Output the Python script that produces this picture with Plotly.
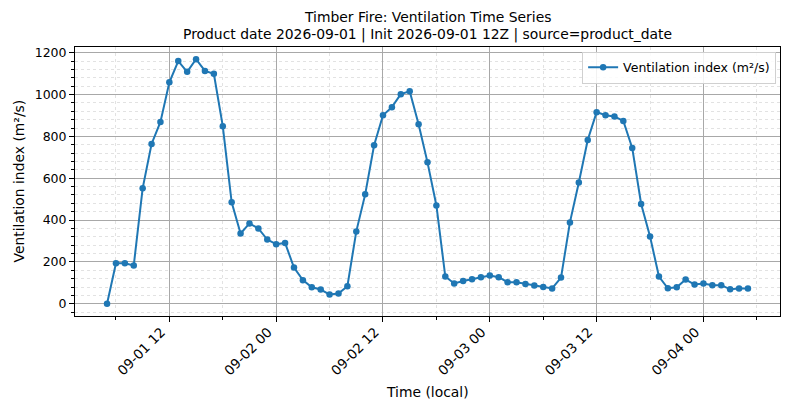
import pandas as pd
import plotly.graph_objects as go

# Hourly ventilation index values (m²/s), starting 2026-09-01 05:00 local
start_time = "2026-09-01 05:00"
vent_index = [0, 194, 194, 183, 552, 764, 869, 1059, 1160, 1109, 1169, 1113, 1099,
              849, 485, 336, 384, 360, 307, 285, 291, 173, 113, 79, 68,
              44, 49, 84, 346, 523, 758, 901, 940, 1002, 1016, 858, 676, 470,
              130, 97, 109, 117, 127, 135, 127, 103, 103, 95, 87, 80,
              73, 125, 389, 580, 783, 916, 901, 895, 874, 745, 477, 322,
              130, 74, 79, 116, 92, 97, 89, 89, 69, 73, 73]
times = pd.date_range(start_time, periods=len(vent_index), freq="h")

title_line1 = "Timber Fire: Ventilation Time Series"
title_line2 = "Product date 2026-09-01 | Init 2026-09-01 12Z | source=product_date"
series_name = "Ventilation index (m²/s)"
x_label = "Time (local)"
y_label = "Ventilation index (m²/s)"

FONT = "DejaVu Sans"
BLUE = "#1f77b4"

fig = go.Figure()
fig.add_trace(go.Scatter(
    x=times, y=vent_index, mode="lines+markers", name=series_name,
    line=dict(color=BLUE, width=2),
    marker=dict(color=BLUE, size=6.5),
))

span = times[-1] - times[0]
pad = span * 0.05
ymin, ymax = min(vent_index), max(vent_index)
ypad = (ymax - ymin) * 0.05

TF = dict(family=FONT, size=13.9, color="black")

# page body has an 8px margin, so the figure is sized/offset to compensate
fig.update_layout(
    width=782, height=401,
    margin=dict(l=67, r=10, t=39, b=93, autoexpand=False),
    paper_bgcolor="white", plot_bgcolor="white",
    font=dict(family=FONT, size=12.5, color="black"),
    showlegend=True,
    legend=dict(
        x=0.9945, y=0.983, xanchor="right", yanchor="top",
        bgcolor="rgba(255,255,255,0.85)", bordercolor="#d0d0d0", borderwidth=1,
        font=dict(family=FONT, size=12.5, color="black"),
        tracegroupgap=0, itemwidth=30,
    ),
    annotations=[
        dict(text=title_line1, xref="paper", yref="paper", x=0.5, y=1,
             yshift=30, xanchor="center", yanchor="middle", showarrow=False, font=TF),
        dict(text=title_line2, xref="paper", yref="paper", x=0.5, y=1,
             yshift=13, xanchor="center", yanchor="middle", showarrow=False, font=TF),
        dict(text=x_label, xref="paper", yref="paper", x=0.5, y=0,
             yshift=-76, xanchor="center", yanchor="middle", showarrow=False, font=TF),
        dict(text=y_label, xref="paper", yref="paper", x=0, y=0.5,
             xshift=-57, xanchor="center", yanchor="middle", showarrow=False,
             textangle=-90, font=TF),
    ],
)

fig.update_xaxes(
    type="date", automargin=False,
    range=[times[0] - pad, times[-1] + pad],
    tick0="2026-09-01 00:00", dtick=12 * 3600 * 1000,
    tickformat="%m-%d %H", tickangle=-45,
    ticklabelshift=-8, ticklabelstandoff=-3,
    ticks="outside", ticklen=5, tickwidth=1, tickcolor="black",
    showline=True, linecolor="black", linewidth=1, mirror=True,
    showgrid=True, gridcolor="#a8a8a8", gridwidth=0.8,
    zeroline=False,
    minor=dict(dtick=6 * 3600 * 1000, tick0="2026-09-01 00:00",
               ticks="outside", ticklen=3, tickcolor="black",
               showgrid=True, gridcolor="#e2e2e2", griddash="dot", gridwidth=0.7),
    tickfont=dict(family=FONT, size=13.5, color="black"),
)
fig.update_yaxes(
    automargin=False,
    range=[ymin - ypad, ymax + ypad],
    tick0=0, dtick=200,
    ticks="outside", ticklen=5, tickwidth=1, tickcolor="black",
    showline=True, linecolor="black", linewidth=1, mirror=True,
    showgrid=True, gridcolor="#a8a8a8", gridwidth=0.8,
    zeroline=False,
    minor=dict(dtick=40, ticks="outside", ticklen=3, tickcolor="black",
               showgrid=True, gridcolor="#e2e2e2", griddash="dot", gridwidth=0.7),
    tickfont=dict(family=FONT, size=12.5, color="black"),
)

fig.write_html("out.html")
